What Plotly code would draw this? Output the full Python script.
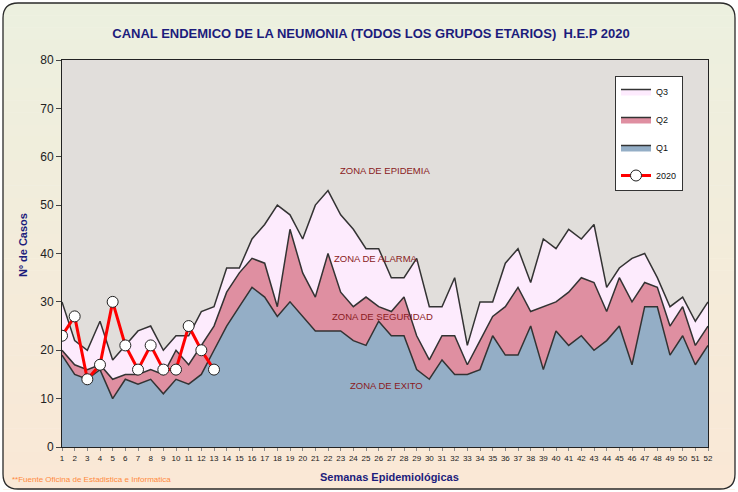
import plotly.graph_objects as go

weeks = list(range(1, 53))
q3 = [30, 22, 20, 26, 18, 21, 24, 25, 20, 23, 23, 28, 29, 37, 37, 43, 46, 50, 48, 43,
      50, 53, 48, 45, 41, 41, 35, 35, 39, 29, 29, 35, 21, 30, 30, 38, 41, 34, 43, 41,
      45, 43, 46, 33, 37, 39, 40, 35, 29, 31, 26, 30]
q2 = [20, 17, 16, 17, 14, 15, 15, 16, 15, 20, 17, 21, 25, 32, 36, 39, 38, 29, 45, 36,
      31, 40, 32, 29, 31, 29, 28, 31, 23, 18, 23, 23, 17, 22, 27, 29, 33, 28, 29, 30,
      32, 35, 34, 28, 35, 30, 34, 33, 25, 29, 21, 25]
q1 = [19, 15, 14, 16, 10, 14, 13, 14, 11, 14, 13, 15, 20, 25, 29, 33, 31, 27, 30, 27,
      24, 24, 24, 22, 21, 26, 23, 23, 16, 14, 18, 15, 15, 16, 23, 19, 19, 25, 16, 24,
      21, 23, 20, 22, 25, 17, 29, 29, 19, 23, 17, 21]
weeks_2020 = list(range(1, 14))
cases_2020 = [23, 27, 14, 17, 30, 21, 16, 21, 16, 16, 25, 20, 16]
zone_labels = ["ZONA DE EPIDEMIA", "ZONA DE ALARMA", "ZONA DE SEGURIDAD", "ZONA DE EXITO"]

W, H = 738, 492
L, R, T, B = 62, 708, 60, 447
PW, PH = R - L, B - T


def px(x):
    return (x - L) / PW


def py(y):
    return (B - y) / PH


FONT = "Liberation Sans Narrow, Arial Narrow, Liberation Sans, Arial"
NAVY = "#1C1C7C"
ZRED = "#8A1A22"

fig = go.Figure()
fig.add_trace(go.Scatter(x=weeks, y=q3, name="Q3", mode="lines", fill="tozeroy",
                         fillcolor="#FDEBFD", line=dict(color="#333333", width=1.5),
                         legendgroup="a"))
fig.add_trace(go.Scatter(x=weeks, y=q2, name="Q2", mode="lines", fill="tozeroy",
                         fillcolor="#DF8FA1", line=dict(color="#333333", width=1.5),
                         legendgroup="b"))
fig.add_trace(go.Scatter(x=weeks, y=q1, name="Q1", mode="lines", fill="tozeroy",
                         fillcolor="#94AEC6", line=dict(color="#333333", width=1.5),
                         legendgroup="c"))
fig.add_trace(go.Scatter(x=weeks_2020, y=cases_2020, name="2020", mode="lines+markers",
                         line=dict(color="#FF0000", width=3),
                         marker=dict(size=11, color="white", line=dict(color="#222222", width=1)),
                         legendgroup="d"))

shapes = []
# gradient background bands
x0p, x1p, y0p, y1p = 3, 735, 3, 489
n = 40
top = (236, 240, 223)
bot = (250, 232, 214)
for i in range(n):
    t = i / (n - 1)
    c = tuple(int(round(top[k] + (bot[k] - top[k]) * t)) for k in range(3))
    ya = y0p + (y1p - y0p) * i / n
    yb = y0p + (y1p - y0p) * (i + 1) / n + 0.5
    shapes.append(dict(type="rect", xref="paper", yref="paper", layer="below",
                       x0=px(x0p), x1=px(x1p), y0=py(ya), y1=py(yb),
                       fillcolor="rgb(%d,%d,%d)" % c, line=dict(width=0)))
# plot-area background
shapes.append(dict(type="rect", xref="paper", yref="paper", layer="below",
                   x0=0, x1=1, y0=0, y1=1, fillcolor="#E1DEDB", line=dict(width=0)))
# corner masks and rounded border
r = 15


def P(x, y):
    return "%f,%f" % (px(x), py(y))


corners = [
    (x0p, y0p, x0p + r, y0p, x0p, y0p + r),
    (x1p, y0p, x1p - r, y0p, x1p, y0p + r),
    (x0p, y1p, x0p + r, y1p, x0p, y1p - r),
    (x1p, y1p, x1p - r, y1p, x1p, y1p - r),
]
for cx, cy, ax, ay, bx, by in corners:
    path = "M %s L %s Q %s %s Z" % (P(cx, cy), P(ax, ay), P(cx, cy), P(bx, by))
    shapes.append(dict(type="path", xref="paper", yref="paper", layer="below",
                       path=path, fillcolor="white", line=dict(width=0)))
border = ("M %s L %s Q %s %s L %s Q %s %s L %s Q %s %s L %s Q %s %s Z" % (
    P(x0p + r, y0p), P(x1p - r, y0p), P(x1p, y0p), P(x1p, y0p + r),
    P(x1p, y1p - r), P(x1p, y1p), P(x1p - r, y1p),
    P(x0p + r, y1p), P(x0p, y1p), P(x0p, y1p - r),
    P(x0p, y0p + r), P(x0p, y0p), P(x0p + r, y0p)))
shapes.append(dict(type="path", xref="paper", yref="paper", layer="above",
                   path=border, line=dict(color="#2A2A2A", width=1.3)))

annotations = []
zone_pos = [(26.5, 57.2), (25.8, 39.0), (26.3, 26.9), (26.6, 12.8)]
for txt, (zx, zy) in zip(zone_labels, zone_pos):
    annotations.append(dict(x=zx, y=zy, xref="x", yref="y", text=txt, showarrow=False,
                            xanchor="center", yanchor="middle",
                            font=dict(family=FONT, size=9.5, color=ZRED)))
annotations.append(dict(x=px(23), y=py(245), xref="paper", yref="paper", text="<b>Nº de Casos</b>",
                        textangle=-90, showarrow=False, xanchor="center", yanchor="middle",
                        font=dict(family=FONT, size=11, color=NAVY)))
annotations.append(dict(x=px(389), y=py(477), xref="paper", yref="paper",
                        text="<b>Semanas Epidemiológicas</b>", showarrow=False,
                        xanchor="center", yanchor="middle",
                        font=dict(family=FONT, size=11, color=NAVY)))
annotations.append(dict(x=px(10), y=py(479), xref="paper", yref="paper", xanchor="left",
                        yanchor="middle",
                        text="**Fuente Oficina de Estadistica e Informatica", showarrow=False,
                        font=dict(family=FONT, size=8, color="#FF8A3D")))

fig.update_layout(
    width=W, height=H,
    margin=dict(l=L, r=W - R, t=T, b=H - B, pad=0),
    paper_bgcolor="white",
    plot_bgcolor="#E1DEDB",
    title=dict(text="<b>CANAL ENDEMICO DE LA NEUMONIA (TODOS LOS GRUPOS ETARIOS)  H.E.P 2020</b>",
               xref="container", x=371 / W, xanchor="center",
               yref="container", y=1 - 33 / H, yanchor="middle",
               font=dict(family=FONT, size=13, color=NAVY)),
    xaxis=dict(range=[1, 52], tickmode="array", tickvals=weeks, ticktext=[str(w) for w in weeks],
               showgrid=False, zeroline=False, showline=True, linecolor="#222222", linewidth=1,
               mirror=True, ticks="outside", ticklen=3, tickcolor="#888888", tickangle=0,
               tickfont=dict(family=FONT, size=8, color="#222222")),
    yaxis=dict(range=[0, 80], dtick=10, showgrid=False, zeroline=False, showline=True,
               linecolor="#222222", linewidth=1, mirror=True, ticks="outside", ticklen=5,
               tickcolor="#444444", tickfont=dict(family=FONT, size=12, color="#222222")),
    legend=dict(x=px(615), y=py(76), xanchor="left", yanchor="top", bgcolor="white",
                bordercolor="#333333", borderwidth=1, tracegroupgap=9,
                font=dict(family=FONT, size=9, color="#111111"), itemwidth=30),
    shapes=shapes,
    annotations=annotations,
    showlegend=True,
)

fig.write_html("out.html", config={"displayModeBar": False},
               post_script="document.body.style.margin='0';document.body.style.padding='0';")
